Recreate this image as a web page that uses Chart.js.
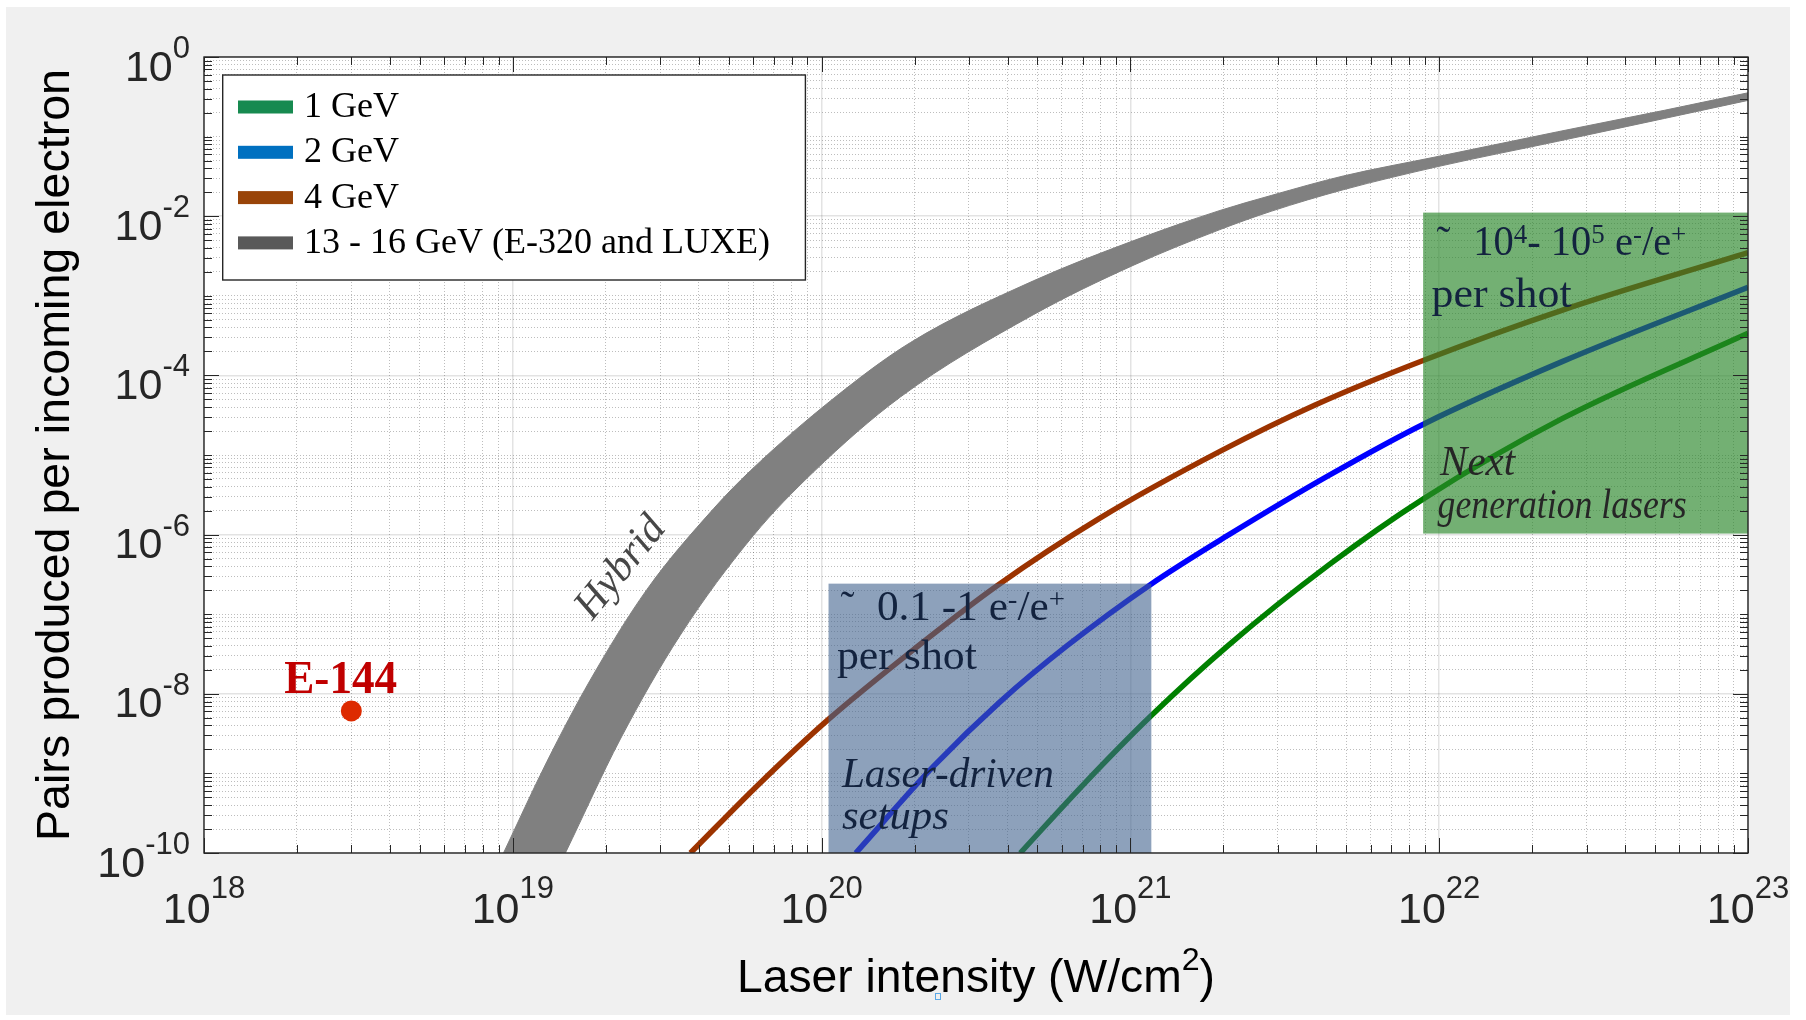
<!DOCTYPE html>
<html>
<head>
<meta charset="utf-8">
<script src="https://cdn.jsdelivr.net/npm/chart.js@4.4.1/dist/chart.umd.min.js"></script>
<style>
  html, body { margin: 0; padding: 0; background: #ffffff; }
  canvas { display: block; }
</style>
</head>
<body>
<canvas id="chart" width="1806" height="1020"></canvas>
<script>
// laser intensity (W/cm^2) vs pairs produced per incoming electron
const gev1I = [4.40e20, 7.08e20, 1.16e21, 2.08e21, 4.38e21, 8.89e21, 2.50e22, 1.00e23];
const gev1P = [1.0e-10, 7.40e-10, 5.18e-9, 4.09e-8, 4.13e-7, 2.81e-6, 2.86e-5, 3.38e-4];

const gev2I = [1.29e20, 2.31e20, 3.79e20, 6.24e20, 1.16e21, 2.08e21, 4.38e21, 8.89e21, 2.50e22, 1.00e23];
const gev2P = [1.0e-10, 1.24e-9, 7.98e-9, 4.02e-8, 2.35e-7, 9.91e-7, 5.51e-6, 2.44e-5, 1.49e-4, 1.28e-3];

const gev4I = [3.76e19, 6.31e19, 1.05e20, 2.00e20, 3.70e20, 7.94e20, 1.95e21, 3.98e21, 8.87e21, 2.51e22, 1.00e23];
const gev4P = [1.0e-10, 7.53e-10, 4.74e-9, 3.68e-8, 2.28e-7, 1.60e-6, 1.11e-5, 4.28e-5, 1.54e-4, 6.62e-4, 3.48e-3];

// 13 - 16 GeV band, upper and lower edge (lower edge starts just under the axis)
const bandHiI = [9.33e18, 1.29e19, 1.78e19, 2.72e19, 4.47e19, 5.88e19, 1.09e20, 1.94e20, 4.85e20, 1.02e21, 1.95e21, 2.87e21, 4.89e21, 9.98e21, 2.42e22, 5.36e22, 1.00e23];
const bandHiP = [1.0e-10, 1.41e-9, 1.48e-8, 2.05e-7, 2.12e-6, 6.34e-6, 5.09e-5, 2.59e-4, 1.54e-3, 4.90e-3, 1.18e-2, 1.83e-2, 3.20e-2, 5.66e-2, 1.15e-1, 2.14e-1, 3.55e-1];
const bandLoI = [9.33e18, 1.48e19, 2.23e19, 3.48e19, 6.01e19, 9.42e19, 1.80e20, 4.85e20, 1.02e21, 1.95e21, 2.87e21, 4.89e21, 9.98e21, 2.42e22, 5.36e22, 1.00e23];
const bandLoP = [2.57e-12, 1.0e-10, 2.70e-9, 5.40e-8, 9.72e-7, 6.14e-6, 5.36e-5, 5.79e-4, 2.41e-3, 6.79e-3, 1.16e-2, 2.15e-2, 4.23e-2, 8.73e-2, 1.69e-1, 2.85e-1];

// E-144 measurement
const e144I = [3.0e18];
const e144P = [6.1e-9];

// axes
const xDecades = [18, 19, 20, 21, 22, 23];
const yDecades = [-10, -9, -8, -7, -6, -5, -4, -3, -2, -1, 0];
const yLabelled = [-10, -8, -6, -4, -2, 0];
const minorSteps = [2, 3, 4, 5, 6, 7, 8, 9];

const legendLabels = ['1 GeV', '2 GeV', '4 GeV', '13 - 16 GeV (E-320 and LUXE)'];
const legendColors = ['#178a50', '#0070c0', '#994408', '#595959'];

// shaded regions (data units)
const laserBox = { x: [1.053e20, 1.169e21], y: [1e-10, 2.42e-7] };
const nextBox = { x: [8.87e21, 1e23], y: [1.03e-6, 1.11e-2] };

const axisColor = '#262626';
const sans = '"Liberation Sans", Arial, Helvetica, sans-serif';
const serif = '"Liberation Serif", "Times New Roman", serif';
const navy = '#13233f';

function pts(xs, ys) {
  return xs.map((x, i) => ({ x: x, y: ys[i] }));
}

function decadeTicks(decades, labelled) {
  const ticks = [];
  decades.forEach((d, i) => {
    ticks.push({ value: Math.pow(10, d), major: labelled.includes(d), exp: d });
    if (i < decades.length - 1) {
      minorSteps.forEach(k => ticks.push({ value: k * Math.pow(10, d), major: false }));
    }
  });
  return ticks;
}

// draws text made of normal and superscript pieces
function drawRich(ctx, parts, x, y, o) {
  const sup = o.supSize || Math.round(o.size * 0.68);
  const rise = o.rise != null ? o.rise : o.size * 0.38;
  const fontOf = s => (o.style ? o.style + ' ' : '') + s + 'px ' + o.family;
  let w = 0;
  const widths = parts.map(([t, s]) => {
    ctx.font = fontOf(s ? sup : o.size);
    const m = ctx.measureText(t).width;
    w += m;
    return m;
  });
  const sx = o.width ? o.width / w : 1;
  let start = x;
  if (o.align === 'center') start = x - w * sx / 2;
  else if (o.align === 'right') start = x - w * sx;
  ctx.save();
  ctx.translate(start, y);
  ctx.scale(sx, 1);
  ctx.fillStyle = o.color || '#000';
  ctx.textAlign = 'left';
  ctx.textBaseline = 'alphabetic';
  let cx = 0;
  parts.forEach(([t, s], i) => {
    ctx.font = fontOf(s ? sup : o.size);
    ctx.fillText(t, cx, s ? -rise : 0);
    cx += widths[i];
  });
  ctx.restore();
}

const laserText = [
  { parts: [['˜', 0]], dx: 12, dy: 36.7 },
  { parts: [['0.1 -1 e', 0], ['-', 1], ['/e', 0], ['+', 1]], dx: 48.4, dy: 36.7, width: 188 },
  { parts: [['per shot', 0]], dx: 8.4, dy: 85, width: 140 },
  { parts: [['Laser-driven', 0]], dx: 13.4, dy: 203.4, width: 212, style: 'italic' },
  { parts: [['setups', 0]], dx: 13.4, dy: 245, width: 107, style: 'italic' }
];
const nextText = [
  { parts: [['˜', 0]], dx: 13.5, dy: 42.7 },
  { parts: [['10', 0], ['4', 1], ['- 10', 0], ['5', 1], [' e', 0], ['-', 1], ['/e', 0], ['+', 1]], dx: 50.2, dy: 42.7, width: 213 },
  { parts: [['per shot', 0]], dx: 8.5, dy: 94.5, width: 140 },
  { parts: [['Next', 0]], dx: 17, dy: 262.3, width: 75, style: 'italic', color: '#262626' },
  { parts: [['generation lasers', 0]], dx: 14.5, dy: 305.2, width: 249, style: 'italic', color: '#262626' }
];

function drawBox(chart, box, fill, lines) {
  const { ctx } = chart;
  const xs = chart.scales.x, ys = chart.scales.y;
  const l = xs.getPixelForValue(box.x[0]), r = xs.getPixelForValue(box.x[1]);
  const t = ys.getPixelForValue(box.y[1]), b = ys.getPixelForValue(box.y[0]);
  ctx.save();
  ctx.fillStyle = fill;
  ctx.fillRect(l, t, r - l, b - t);
  lines.forEach(ln => {
    drawRich(ctx, ln.parts, l + ln.dx, t + ln.dy, {
      size: 42, supSize: 28, rise: 12, family: serif, style: ln.style,
      color: ln.color || navy, width: ln.width
    });
  });
  ctx.restore();
}

const figure = {
  id: 'figure',
  beforeDraw(chart) {
    const { ctx, chartArea: a } = chart;
    ctx.save();
    ctx.fillStyle = '#ffffff';
    ctx.fillRect(0, 0, chart.width, chart.height);
    ctx.fillStyle = '#f0f0f0';
    ctx.fillRect(6, 7, 1784, 1008);
    ctx.fillStyle = '#ffffff';
    ctx.fillRect(a.left, a.top, a.right - a.left, a.bottom - a.top);
    ctx.restore();
  },
  afterDatasetsDraw(chart) {
    drawBox(chart, laserBox, 'rgba(65,99,142,0.6)', laserText);
    drawBox(chart, nextBox, 'rgba(42,135,42,0.66)', nextText);
  },
  afterDraw(chart) {
    const { ctx, chartArea: a } = chart;
    const xs = chart.scales.x, ys = chart.scales.y;
    ctx.save();

    // inward ticks on all four sides
    ctx.strokeStyle = axisColor;
    ctx.lineWidth = 1;
    ctx.beginPath();
    xs.ticks.forEach(t => {
      const px = Math.round(xs.getPixelForValue(t.value)) + 0.5;
      const len = t.major ? 15 : 8;
      ctx.moveTo(px, a.bottom); ctx.lineTo(px, a.bottom - len);
      ctx.moveTo(px, a.top); ctx.lineTo(px, a.top + len);
    });
    ys.ticks.forEach(t => {
      const py = Math.round(ys.getPixelForValue(t.value)) + 0.5;
      const len = t.major ? 15 : 8;
      ctx.moveTo(a.left, py); ctx.lineTo(a.left + len, py);
      ctx.moveTo(a.right, py); ctx.lineTo(a.right - len, py);
    });
    ctx.stroke();
    ctx.lineWidth = 1.4;
    ctx.strokeRect(a.left, a.top, a.right - a.left, a.bottom - a.top);

    // tick labels 10^n
    xs.ticks.filter(t => t.major).forEach(t => {
      drawRich(ctx, [['10', 0], [String(t.exp), 1]], xs.getPixelForValue(t.value), 923,
        { size: 43, supSize: 31, rise: 25, family: sans, color: axisColor, align: 'center' });
    });
    ys.ticks.filter(t => t.major).forEach(t => {
      const py = ys.getPixelForValue(t.value);
      drawRich(ctx, [['10', 0], [String(t.exp), 1]], a.left - 14, py + 23.5,
        { size: 43, supSize: 31, rise: 22.5, family: sans, color: axisColor, align: 'right' });
    });

    // axis titles
    drawRich(ctx, [['Laser intensity (W/cm', 0], ['2', 1], [')', 0]], (a.left + a.right) / 2, 992,
      { size: 46, supSize: 32, rise: 22, family: sans, color: '#000', align: 'center', width: 478 });
    ctx.save();
    ctx.translate(69, (a.top + a.bottom) / 2);
    ctx.rotate(-Math.PI / 2);
    drawRich(ctx, [['Pairs produced per incoming electron', 0]], 0, 0,
      { size: 46, family: sans, color: '#000', align: 'center', width: 772 });
    ctx.restore();

    // legend
    const lx = 222.7, ly = 75;
    ctx.fillStyle = '#ffffff';
    ctx.fillRect(lx, ly, 582.7, 205);
    ctx.strokeStyle = axisColor;
    ctx.lineWidth = 1.4;
    ctx.strokeRect(lx, ly, 582.7, 205);
    legendLabels.forEach((lab, i) => {
      const base = 117 + i * 45.3;
      ctx.fillStyle = legendColors[i];
      ctx.fillRect(238, base - 16.5, 55, 13);
      drawRich(ctx, [[lab, 0]], 304, base, { size: 36, family: serif, color: '#000' });
    });

    // E-144 label
    drawRich(ctx, [['E-144', 0]], 340.7, 692.7,
      { size: 46, family: serif, style: 'bold', color: '#c00000', align: 'center', width: 113 });

    // Hybrid label along the band
    ctx.save();
    ctx.translate(621, 568);
    ctx.rotate(-51 * Math.PI / 180);
    ctx.font = 'italic 42px ' + serif;
    ctx.fillStyle = '#474747';
    ctx.textAlign = 'center';
    ctx.textBaseline = 'middle';
    ctx.fillText('Hybrid', 0, 0);
    ctx.restore();

    // small marker left in the source image
    ctx.strokeStyle = '#5aa8e6';
    ctx.lineWidth = 1;
    ctx.strokeRect(935.5, 993.5, 5, 6);

    ctx.restore();
  }
};

const majorGrid = 'rgba(0,0,0,0.11)';
const minorGrid = 'rgba(0,0,0,0.26)';

function gridFor(decades, labelled) {
  return {
    afterBuildTicks: scale => { scale.ticks = decadeTicks(decades, labelled); },
    ticks: { display: false },
    grid: {
      drawTicks: false,
      color: c => (c.tick && c.tick.major ? majorGrid : minorGrid),
      lineWidth: c => (c.tick && c.tick.major ? 1.5 : 1)
    },
    border: { display: false, dash: c => (c.tick && c.tick.major ? [] : [1, 2]) }
  };
}

const lineStyle = { pointRadius: 0, borderWidth: 5.5, cubicInterpolationMode: 'monotone', fill: false };

new Chart(document.getElementById('chart'), {
  type: 'line',
  data: {
    datasets: [
      { label: 'E-144', data: pts(e144I, e144P), showLine: false, pointRadius: 10.5,
        pointBackgroundColor: '#dd2a00', pointBorderWidth: 0 },
      Object.assign({ label: '4 GeV', data: pts(gev4I, gev4P), borderColor: '#9c3300' }, lineStyle),
      Object.assign({ label: '2 GeV', data: pts(gev2I, gev2P), borderColor: '#0000ff' }, lineStyle),
      Object.assign({ label: '1 GeV', data: pts(gev1I, gev1P), borderColor: '#008000' }, lineStyle),
      { label: '13 - 16 GeV', data: pts(bandHiI, bandHiP), borderColor: '#808080', borderWidth: 1,
        backgroundColor: '#808080', fill: '+1', pointRadius: 0, cubicInterpolationMode: 'monotone' },
      { label: '13 - 16 GeV low', data: pts(bandLoI, bandLoP), borderColor: '#808080', borderWidth: 1,
        fill: false, pointRadius: 0, cubicInterpolationMode: 'monotone' }
    ]
  },
  options: {
    responsive: false,
    animation: false,
    devicePixelRatio: 1,
    layout: { padding: { left: 204, top: 57, right: 58, bottom: 167 } },
    plugins: { legend: { display: false }, tooltip: { enabled: false } },
    scales: {
      x: Object.assign({ type: 'logarithmic', min: 1e18, max: 1e23 }, gridFor(xDecades, xDecades)),
      y: Object.assign({ type: 'logarithmic', min: 1e-10, max: 1 }, gridFor(yDecades, yLabelled))
    }
  },
  plugins: [figure]
});
</script>
</body>
</html>
